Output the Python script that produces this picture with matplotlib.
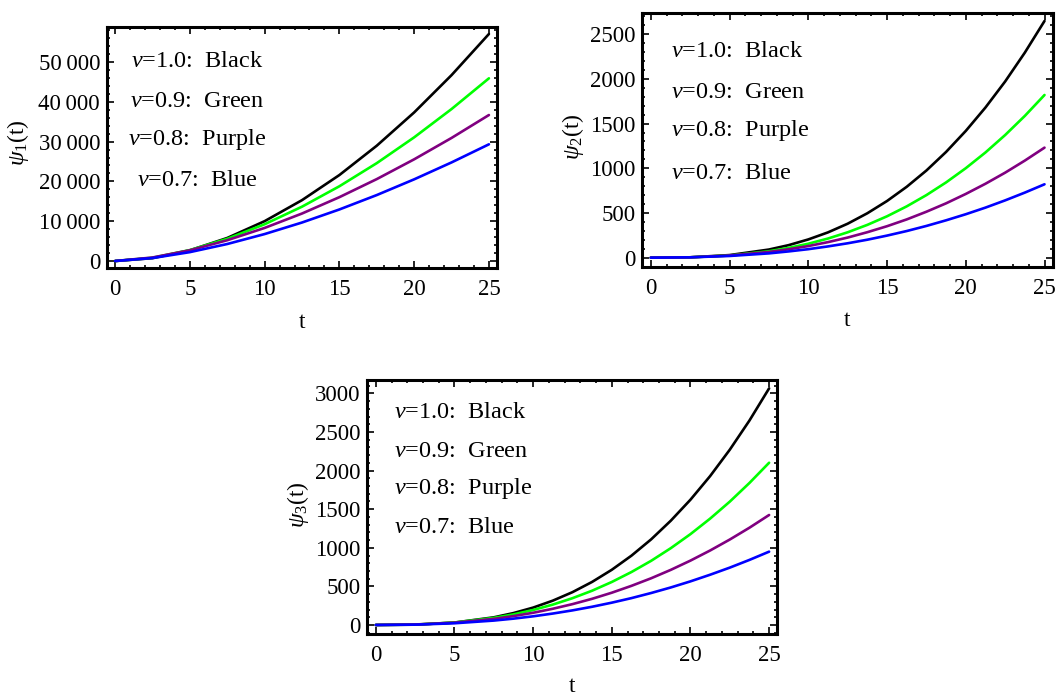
import matplotlib.pyplot as plt
from matplotlib.ticker import MultipleLocator, FuncFormatter

plt.rcParams['font.family'] = ['Liberation Serif', 'DejaVu Serif']
plt.rcParams['mathtext.fontset'] = 'custom'
plt.rcParams['mathtext.rm'] = 'Liberation Serif'
plt.rcParams['mathtext.it'] = 'Liberation Serif:italic'

# --- DATA ---
nu_labels = ['1.0', '0.9', '0.8', '0.7']
color_names = ['Black', 'Green', 'Purple', 'Blue']
colors = ['#000000', '#00ff00', '#800080', '#0000ff']

t1 = [0, 2.5, 5, 7.5, 10, 12.5, 15, 17.5, 20, 22.5, 25]
psi1_black = [0, 718, 2680, 5790, 10010, 15290, 21600, 28970, 37330, 46700, 57040]
psi1_green = [0, 816, 2750, 5580, 9240, 13650, 18780, 24590, 31070, 38180, 45900]
psi1_purple = [0, 880, 2700, 5220, 8310, 11930, 16040, 20580, 25550, 30920, 36680]
psi1_blue = [0, 737, 2230, 4270, 6770, 9670, 12950, 16570, 20520, 24770, 29320]

t23 = [0, 2.5, 5, 7.5, 8.75, 10, 11.25, 12.5, 13.75, 15, 16.25, 17.5,
       18.75, 20, 21.25, 22.5, 23.75, 25]
psi2_black = [0, 4, 29, 91, 140, 204, 283, 380, 497, 634, 793, 975,
              1183, 1418, 1680, 1971, 2294, 2648]
psi2_green = [0, 4, 24, 72, 109, 156, 214, 284, 367, 463, 574, 700,
              842, 1001, 1177, 1372, 1586, 1820]
psi2_purple = [0, 4, 24, 64, 94, 130, 174, 225, 285, 352, 428, 514,
               608, 713, 827, 951, 1086, 1231]
psi2_blue = [0, 4, 19, 48, 70, 95, 126, 161, 201, 247, 298, 355,
             418, 486, 560, 641, 728, 821]

psi3_black = [0, 4, 31, 99, 154, 225, 315, 425, 558, 715, 898, 1109,
              1351, 1623, 1929, 2271, 2649, 3066]
psi3_green = [0, 5, 32, 92, 137, 194, 264, 347, 444, 557, 686, 831,
              995, 1177, 1378, 1598, 1840, 2102]
psi3_purple = [0, 6, 30, 79, 115, 158, 210, 270, 339, 418, 507, 605,
               714, 834, 965, 1107, 1260, 1425]
psi3_blue = [0, 4, 22, 57, 82, 112, 148, 189, 236, 289, 348, 414,
             486, 565, 651, 743, 843, 950]

W, H = 1056, 695
fig = plt.figure(figsize=(W / 100, H / 100), dpi=100)


def box(left, top, right, bottom):
    return [left / W, 1 - bottom / H, (right - left) / W, (bottom - top) / H]


def panel(rect, t, series, ylim, ymajor, yfmt, txt_x, txt_ys, ha):
    ax = fig.add_axes(rect)
    for y, c in zip(series, colors):
        ax.plot(t, y, color=c, lw=1.9, solid_capstyle='round')
    ax.set_xlim(-0.54, 25.52)
    ax.set_ylim(*ylim)
    ax.xaxis.set_major_locator(MultipleLocator(5))
    ax.xaxis.set_minor_locator(MultipleLocator(1))
    ax.yaxis.set_major_locator(MultipleLocator(ymajor))
    ax.yaxis.set_minor_locator(MultipleLocator(ymajor / 5))
    ax.yaxis.set_major_formatter(FuncFormatter(yfmt))
    ax.tick_params(which='both', direction='in', top=True, right=True,
                   width=1.2, labelsize=16.5)
    ax.tick_params(which='major', length=5)
    ax.tick_params(which='minor', length=2.5)
    ax.tick_params(axis='x', pad=8)
    ax.tick_params(axis='y', pad=5)
    for s in ax.spines.values():
        s.set_linewidth(2.2)
    for lab, name, yy in zip(nu_labels, color_names, txt_ys):
        ax.text(txt_x, yy, r'$\nu$=' + lab + ':  ' + name, transform=ax.transAxes,
                ha=ha, va='center', fontsize=17.5)
    return ax


def fmt_thousands(v, pos):
    v = int(round(v))
    if v == 0:
        return '0'
    return f'{v // 1000}\u2009{v % 1000:03d}'


def fmt_plain(v, pos):
    return f'{int(round(v))}'


panel(box(107, 26.7, 496.7, 267.7), t1,
      [psi1_black, psi1_green, psi1_purple, psi1_blue],
      (-1680, 58870), 10000, fmt_thousands,
      0.231, [0.855, 0.689, 0.530, 0.360], 'center')

panel(box(642.3, 13.3, 1052.7, 266.7), t23,
      [psi2_black, psi2_green, psi2_purple, psi2_blue],
      (-101, 2734), 500, fmt_plain,
      0.07, [0.848, 0.687, 0.537, 0.369], 'left')

panel(box(367.3, 380, 777.3, 634), t23,
      [psi3_black, psi3_green, psi3_purple, psi3_blue],
      (-117, 3174), 500, fmt_plain,
      0.065, [0.871, 0.718, 0.574, 0.419], 'left')

# axis labels
for x, y, sub in [(18, 143, '1'), (573, 137, '2'), (298, 505, '3')]:
    fig.text(x / W, 1 - y / H, r'$\psi_' + sub + '$(t)', rotation=90,
             ha='center', va='center', fontsize=17)
for x, y in [(302, 323), (847, 321), (572, 686)]:
    fig.text(x / W, 1 - y / H, 't', ha='center', va='center', fontsize=17)

fig.savefig('out.png', dpi=100)
